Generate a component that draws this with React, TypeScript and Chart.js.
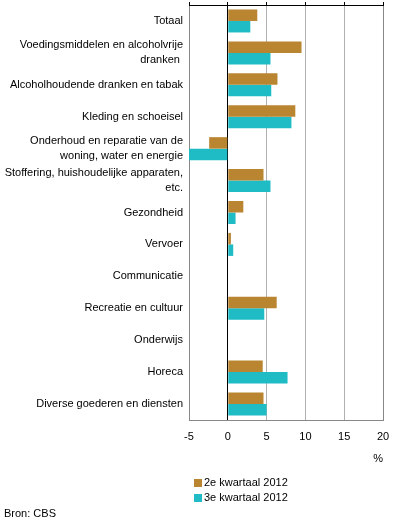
import React, { useEffect, useRef } from "react";
import { Chart, registerables } from "chart.js";

Chart.register(...registerables);

const categories: (string | string[])[] = [
  "Totaal",
  ["Voedingsmiddelen en alcoholvrije", "dranken "],
  "Alcoholhoudende dranken en tabak",
  "Kleding en schoeisel",
  ["Onderhoud en reparatie van de", "woning, water en energie"],
  ["Stoffering, huishoudelijke apparaten,", "etc."],
  "Gezondheid",
  "Vervoer",
  "Communicatie",
  "Recreatie en cultuur",
  "Onderwijs",
  "Horeca",
  "Diverse goederen en diensten",
];

const seriesNames = ["2e kwartaal 2012", "3e kwartaal 2012"];
const q2Values: (number | null)[] = [3.8, 9.5, 6.4, 8.7, -2.4, 4.6, 2.0, 0.4, null, 6.3, null, 4.5, 4.6];
const q3Values: (number | null)[] = [2.9, 5.5, 5.6, 8.2, -5.0, 5.5, 1.0, 0.7, null, 4.7, null, 7.7, 5.0];
const xMin = -5;
const xMax = 20;
const xStep = 5;
const unitLabel = "%";
const sourceText = "Bron: CBS";

const colors = ["#BA8530", "#1FBCC6"];
const FONT = "'Liberation Sans', Arial, sans-serif";

export default function App() {
  const canvasRef = useRef<HTMLCanvasElement | null>(null);

  useEffect(() => {
    const canvas = canvasRef.current;
    if (!canvas) return;
    const chart = new Chart(canvas, {
      type: "bar",
      data: {
        labels: categories,
        datasets: [
          { label: seriesNames[0], data: q2Values, backgroundColor: colors[0], borderWidth: 0, categoryPercentage: 0.72, barPercentage: 1.0 },
          { label: seriesNames[1], data: q3Values, backgroundColor: colors[1], borderWidth: 0, categoryPercentage: 0.72, barPercentage: 1.0 },
        ],
      },
      options: {
        indexAxis: "y",
        animation: false,
        responsive: false,
        maintainAspectRatio: false,
        layout: { padding: { top: 2, bottom: 56, left: 0, right: 13 } },
        plugins: {
          legend: { display: false },
          tooltip: { enabled: false },
          title: { display: false },
        },
        scales: {
          x: {
            type: "linear",
            position: "bottom",
            min: xMin,
            max: xMax,
            ticks: { stepSize: xStep, color: "#000", font: { family: FONT, size: 11 }, padding: 10 },
            grid: {
              drawTicks: false,
              color: (ctx: any) => {
                const v = ctx.tick ? ctx.tick.value : null;
                if (v === 0) return "#000";
                if (v === xMin || v === xMax) return "#888";
                return "#b0b0b0";
              },
            },
            border: { display: true, color: "#888" },
            title: {
              display: true,
              text: unitLabel,
              align: "end",
              color: "#000",
              font: { family: FONT, size: 11 },
              padding: { top: 0, bottom: 4 },
            },
            afterFit: (scale: any) => {
              scale.height = 50;
              scale.paddingLeft = 0;
              scale.paddingRight = 0;
            },
          },
          x2: {
            type: "linear",
            position: "top",
            min: xMin,
            max: xMax,
            ticks: { stepSize: xStep, display: false },
            grid: { display: true, drawOnChartArea: false, drawTicks: true, tickLength: 3, color: "#000" },
            border: { display: true, color: "#000" },
            afterFit: (scale: any) => {
              scale.paddingLeft = 0;
              scale.paddingRight = 0;
            },
          },
          y: {
            ticks: { color: "#000", font: { family: FONT, size: 11, lineHeight: 1.35 }, padding: 6, autoSkip: false },
            grid: { display: false, drawTicks: false },
            border: { display: false },
            afterFit: (scale: any) => {
              scale.width = 189;
              scale.paddingTop = 0;
              scale.paddingBottom = 0;
            },
          },
        },
      },
    });
    return () => chart.destroy();
  }, []);

  const legendItem = (i: number, top: number) => (
    <div
      style={{
        position: "absolute",
        left: 194,
        top,
        display: "flex",
        alignItems: "center",
        fontFamily: FONT,
        fontSize: 11,
        color: "#000",
        lineHeight: "13px",
        whiteSpace: "nowrap",
      }}
    >
      <span style={{ display: "inline-block", width: 8, height: 8, background: colors[i], marginRight: 2 }} />
      <span>{seriesNames[i]}</span>
    </div>
  );

  return (
    <div style={{ position: "fixed", left: 0, top: 0, width: 396, height: 526, background: "#fff" }}>
      <canvas ref={canvasRef} width={396} height={526} style={{ display: "block", width: 396, height: 526 }} />
      {legendItem(0, 476)}
      {legendItem(1, 491)}
      <div style={{ position: "absolute", left: 4, top: 507, fontFamily: FONT, fontSize: 11, color: "#000", lineHeight: "13px" }}>
        {sourceText}
      </div>
    </div>
  );
}
